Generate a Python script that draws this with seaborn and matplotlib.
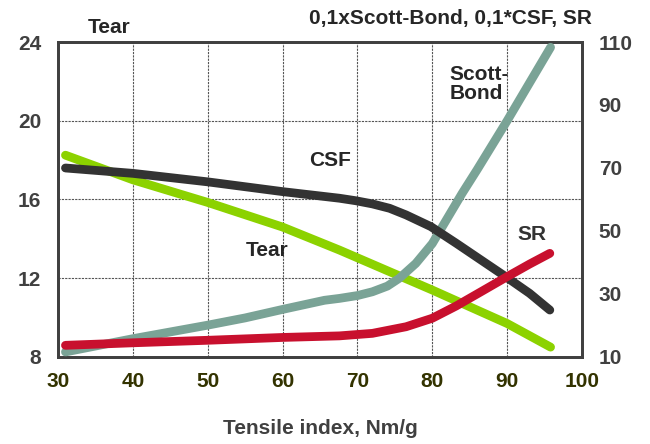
import pandas as pd
import matplotlib
matplotlib.use("Agg")
import matplotlib.pyplot as plt
import seaborn as sns

# values (x = tensile index)
tear_x = [31, 40, 50, 60, 67.6, 80, 90, 95.8]
tear = [18.25, 17.0, 15.85, 14.6, 13.43, 11.4, 9.7, 8.5]

csf_x = [31, 40, 50, 60, 67.6, 69.8, 72, 74.3, 76.5, 79.8, 83.2, 86.5, 89.8, 93, 95.7]
csf = [70.0, 68.3, 65.6, 62.5, 60.4, 59.6, 58.6, 57.2, 55.1, 51.4, 46.1, 40.8, 35.5, 30.2, 24.9]

sb_x = [31, 40, 50, 55, 60, 65.6, 67.6, 70, 72, 74, 75.6, 77.8, 80, 82, 84, 86, 90, 95.8]
scott_bond = [11.6, 15.8, 20.1, 22.4, 25.1, 28.0, 28.6, 29.5, 30.7, 32.5, 35.0, 39.7, 46.0,
              54.0, 62.0, 69.5, 85.0, 108.3]

sr_x = [31, 40, 50, 60, 67.6, 72, 76.5, 80, 83.2, 86.5, 90, 93, 95.7]
sr = [13.7, 14.5, 15.3, 16.2, 16.7, 17.5, 19.6, 22.3, 26.2, 30.7, 35.5, 39.5, 42.9]

left_ticks = [8, 12, 16, 20, 24]
right_ticks = [10, 30, 50, 70, 90, 110]
x_ticks = [30, 40, 50, 60, 70, 80, 90, 100]

sns.set_style("white")
plt.rcParams['font.family'] = ['Liberation Sans', 'DejaVu Sans']

c_tear = "#8cd200"
c_csf = "#333333"
c_sb = "#7aa396"
c_sr = "#c8102e"
lw = 6.3
font_size = 15

fig = plt.figure(figsize=(6.5, 4.44), dpi=100)
ax1 = fig.add_axes([0.0892, 0.196, 0.8062, 0.7094])
ax2 = ax1.twinx()

df_tear = pd.DataFrame({"x": tear_x, "y": tear})
df_csf = pd.DataFrame({"x": csf_x, "y": csf})
df_sb = pd.DataFrame({"x": sb_x, "y": scott_bond})
df_sr = pd.DataFrame({"x": sr_x, "y": sr})

sns.lineplot(data=df_tear, x="x", y="y", ax=ax1, color=c_tear, lw=lw,
             solid_capstyle="round", solid_joinstyle="round", zorder=3)
sns.lineplot(data=df_sb, x="x", y="y", ax=ax2, color=c_sb, lw=lw,
             solid_capstyle="round", solid_joinstyle="round", zorder=3)
sns.lineplot(data=df_csf, x="x", y="y", ax=ax2, color=c_csf, lw=lw,
             solid_capstyle="round", solid_joinstyle="round", zorder=4)
sns.lineplot(data=df_sr, x="x", y="y", ax=ax2, color=c_sr, lw=lw,
             solid_capstyle="round", solid_joinstyle="round", zorder=5)

ax1.set_xlim(30, 100)
ax1.set_ylim(8, 24)
ax2.set_ylim(10, 110)
ax1.set_xticks(x_ticks)
ax1.set_yticks(left_ticks)
ax2.set_yticks(right_ticks)

ax1.grid(True, axis="both", color="#555555", linestyle=(0, (2, 1)), linewidth=0.8)
ax2.grid(False)
ax1.set_axisbelow(True)

ax1.tick_params(axis="x", labelsize=font_size, colors="#333300", length=0, pad=11)
ax1.tick_params(axis="y", labelsize=font_size, colors="#404040", length=0, pad=12)
ax2.tick_params(axis="y", labelsize=font_size, colors="#404040", length=0, pad=12)
for lab in ax1.get_xticklabels() + ax1.get_yticklabels() + ax2.get_yticklabels():
    lab.set_fontweight("bold")

for ax in (ax1, ax2):
    for s in ax.spines.values():
        s.set_color("#404040")
        s.set_linewidth(2)

ax1.set_xlabel("Tensile index, Nm/g", fontsize=font_size, fontweight="bold",
               color="#404040", labelpad=20)
ax1.set_ylabel("")
ax2.set_ylabel("")

fig.text(0.135, 0.937, "Tear", fontsize=font_size, fontweight="bold", ha="left", va="center")
fig.text(0.911, 0.959, "0,1xScott-Bond, 0,1*CSF, SR", fontsize=font_size, fontweight="bold",
         ha="right", va="center")

ax1.text(57.9, 13.4, "Tear", fontsize=font_size, fontweight="bold", ha="center", va="center")
ax1.text(66.4, 18.0, "CSF", fontsize=font_size, fontweight="bold", ha="center", va="center")
ax1.text(82.3, 21.85, "Scott-\nBond", fontsize=font_size, fontweight="bold", ha="left",
         va="center", linespacing=1.0)
ax1.text(93.3, 14.2, "SR", fontsize=font_size, fontweight="bold", ha="center", va="center",
         color="#333333")

plt.savefig("out.png", dpi=100)
